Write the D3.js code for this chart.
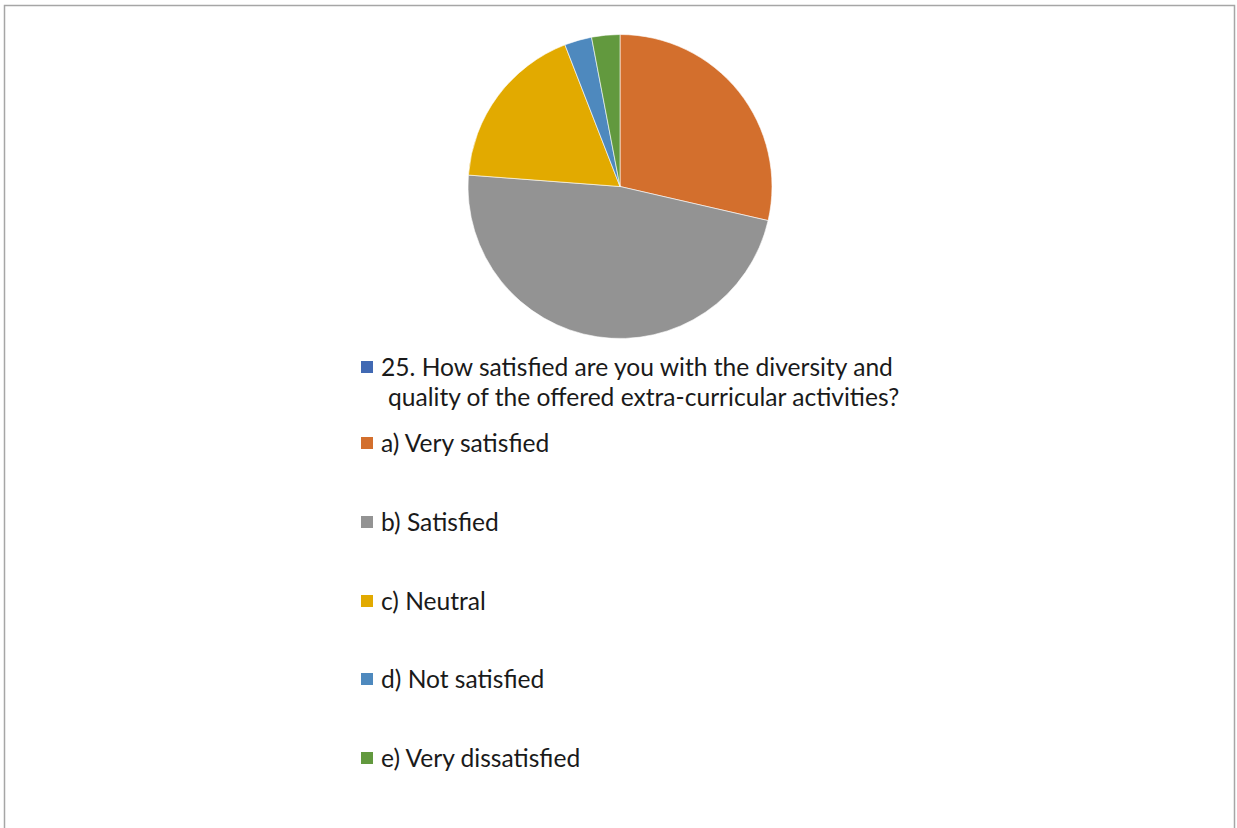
<!DOCTYPE html>
<html>
<head>
<meta charset="utf-8">
<script src="https://cdn.jsdelivr.net/npm/d3@7"></script>
<style>
  html, body { margin: 0; padding: 0; background: #fff; }
  svg { display: block; }
  text { font-family: Lato, "Open Sans", "Liberation Sans", sans-serif; fill: #1a1a1a; }
</style>
</head>
<body>
<svg id="chart" width="1237" height="828"></svg>
<script>
// Survey categories (the first entry is the question header row, value 0)
const categories = [
  "25. How satisfied are you with the diversity and quality of the offered extra-curricular activities?",
  "a) Very satisfied",
  "b) Satisfied",
  "c) Neutral",
  "d) Not satisfied",
  "e) Very dissatisfied"
];
// Share of responses, percent
const values = [0, 28.6, 47.6, 17.9, 2.9, 3.0];
const colors = ["#4169B3", "#D36F2D", "#939393", "#E2AA00", "#4E89BE", "#62993E"];
// Legend text split into lines (header wraps onto two lines)
const legendLines = [
  ["25. How satisfied are you with the diversity and", "quality of the offered extra-curricular activities?"],
  ["a) Very satisfied"],
  ["b) Satisfied"],
  ["c) Neutral"],
  ["d) Not satisfied"],
  ["e) Very dissatisfied"]
];

const svg = d3.select("#chart");
const W = 1237, H = 828;

// chart area frame
svg.append("path")
  .attr("d", `M4.5,${H + 2} V5.5 H1234.5 V${H + 2}`)
  .attr("fill", "none")
  .attr("stroke", "#A6A6A6")
  .attr("stroke-width", 1.5);

const data = categories.map((c, i) => ({ name: c, value: values[i], color: colors[i], lines: legendLines[i] }));

// pie
const cx = 620, cy = 186.5, R = 152;
const pie = d3.pie().value(d => d.value).sort(null).startAngle(0).endAngle(2 * Math.PI);
const arc = d3.arc().innerRadius(0).outerRadius(R);

svg.append("g")
  .attr("transform", `translate(${cx},${cy})`)
  .selectAll("path")
  .data(pie(data).filter(d => d.data.value > 0))
  .join("path")
  .attr("d", arc)
  .attr("fill", d => d.data.color)
  .attr("stroke", "#ffffff")
  .attr("stroke-width", 0.6)
  .attr("stroke-linejoin", "round");

// legend
const legendX = 361, textX = 381, wrapX = 388;
const rowY = [367, 443, 522, 601, 679, 758];
const lineGap = 30;
const sq = 12;

const items = svg.append("g").selectAll("g")
  .data(data)
  .join("g")
  .attr("transform", (d, i) => `translate(0,${rowY[i]})`);

items.append("rect")
  .attr("x", legendX)
  .attr("y", -sq / 2)
  .attr("width", sq)
  .attr("height", sq)
  .attr("fill", d => d.color);

items.each(function(d) {
  const g = d3.select(this);
  d.lines.forEach((ln, j) => {
    g.append("text")
      .attr("x", j === 0 ? textX : wrapX)
      .attr("y", j * lineGap)
      .attr("dy", "0.35em")
      .style("font-size", "24.6px")
      .text(ln);
  });
});
</script>
</body>
</html>
